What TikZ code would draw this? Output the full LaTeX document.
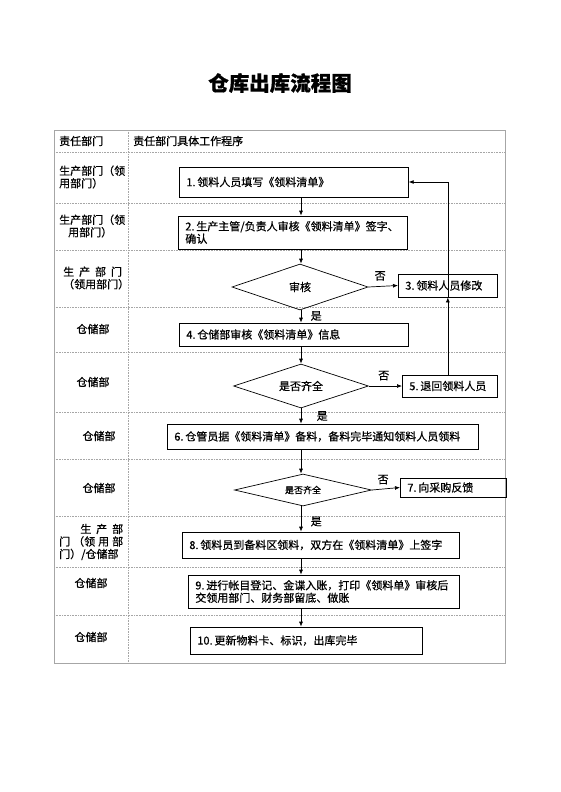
\documentclass[tikz,border=0pt]{standalone}
\usepackage{fontspec}
\setmainfont{Noto Sans CJK SC}[RawFeature={embolden=0.6}]
\usepackage{tikz}
\usetikzlibrary{shapes.geometric, arrows.meta}

\begin{document}
\begin{tikzpicture}[x=1pt, y=-1pt,
  font=\fontsize{11}{12.5}\selectfont,
  procbox/.style={draw, line width=0.7pt, anchor=west, align=left, inner xsep=7pt, inner ysep=0pt},
  decision/.style={draw, diamond, line width=0.7pt, inner sep=0pt, aspect=3},
  flow/.style={line width=0.7pt, -{Latex[length=5pt, width=4pt]}},
  rowline/.style={gray!70, densely dotted, line width=0.6pt},
  dept/.style={align=left, inner sep=0pt}]
\useasboundingbox (0,0) rectangle (560,792);
\node (title) at (280,83) {\fontsize{20.5}{24}\selectfont\bfseries 仓库出库流程图};
% table frame
\draw[gray!70, line width=0.8pt] (54,130) rectangle (505,663);
\draw[rowline] (128,130) -- (128,663);
\foreach \y in {152,203,250,307,352,412,459,516,567,615}
  \draw[rowline] (54,\y) -- (505,\y);
% left column
\node[dept, anchor=west] (h1) at (59,141) {责任部门};
\node[dept, anchor=west] (h2) at (133,141) {责任部门具体工作程序};
\node[dept, anchor=west] (r1) at (59,177) {生产部门（领\\用部门）};
\node[dept, anchor=west] (r2) at (59,226) {生产部门（领\\\hspace*{9pt}用部门）};
\node[dept, anchor=west] (r3) at (63,278) {生\ \ 产\ \ 部\ \ 门\\（领用部门）};
\node[dept] (r4) at (93,329) {仓储部};
\node[dept] (r5) at (93,382) {仓储部};
\node[dept] (r6) at (99,436) {仓储部};
\node[dept] (r7) at (99,488) {仓储部};
\node[dept, anchor=west] (r8) at (59,542) {\makebox[64pt][r]{生\ \ 产\ \ 部}\\\makebox[64pt][s]{门 （领 用 部}\\\makebox[64pt][s]{门）/仓储部}};
\node[dept] (r9) at (91,583) {仓储部};
\node[dept] (r10) at (91,637) {仓储部};
% flow
\node[procbox, text width=215pt, minimum height=30pt] (b1) at (179,182) {1.\,领料人员填写《领料清单》};
\node[procbox, text width=215pt, minimum height=33pt] (b2) at (178,232.5) {2.\,生产主管/负责人审核《领料清单》签字、\\确认};
\node[decision, minimum width=136pt, minimum height=46pt] (d1) at (300,287) {审核};
\node[procbox, text width=85pt, minimum height=23pt] (b3) at (398,285.5) {3.\,领料人员修改};
\node[procbox, text width=215pt, minimum height=23pt] (b4) at (179,334.5) {4.\,仓储部审核《领料清单》信息};
\node[decision, minimum width=135pt, minimum height=44pt] (d2) at (301,386) {是否齐全};
\node[procbox, text width=81pt, minimum height=22pt] (b5) at (402,386) {5.\,退回领料人员};
\node[procbox, text width=297pt, minimum height=25pt] (b6) at (167,436.5) {6.\,仓管员据《领料清单》备料，备料完毕通知领料人员领料};
\node[decision, minimum width=137pt, minimum height=32pt, font=\fontsize{9}{11}\selectfont] (d3) at (303,490) {是否齐全};
\node[procbox, text width=92pt, minimum height=19pt] (b7) at (400,487.5) {7.\,向采购反馈};
\node[procbox, text width=263pt, minimum height=26pt] (b8) at (182,545) {8.\,领料员到备料区领料，双方在《领料清单》上签字};
\node[procbox, text width=257pt, minimum height=33pt] (b9) at (188,591.5) {9.\,进行帐目登记、金谍入账，打印《领料单》审核后\\交领用部门、财务部留底、做账};
\node[procbox, text width=218pt, minimum height=27pt] (b10) at (190,640.5) {10.\,更新物料卡、标识，出库完毕};
\coordinate (axis) at (301,0);
\draw[flow] (b1.south -| axis) -- (b2.north -| axis);
\draw[flow] (b2.south -| axis) -- (d1.north -| axis);
\draw[flow] (d1.east) -- (b3.west) node[above, pos=.4, yshift=2pt]{否};
\draw[flow] (d1.south -| axis) -- (b4.north -| axis) node[right, pos=.45, xshift=6pt]{是};
\draw[flow] (b4.south -| axis) -- (d2.north -| axis);
\draw[flow] (d2.east) -- (b5.west) node[above, pos=.45, yshift=2pt]{否};
\draw[flow] (b5.north -| b3.south) -- (b3.south);
\draw[flow] (b3.south) -- (b3.south |- b1.east) -- (b1.east);
\draw[flow] (d2.south -| axis) -- (b6.north -| axis) node[right, pos=.5, xshift=12pt]{是};
\draw[flow] (b6.south -| axis) -- (d3.north -| axis);
\draw[flow] (d3.east) -- (b7.west) node[above, pos=.4, yshift=1pt]{否};
\draw[flow] (d3.south -| axis) -- (b8.north -| axis) node[right, pos=.6, xshift=6pt]{是};
\draw[flow] (b8.south -| axis) -- (b9.north -| axis);
\draw[flow] (b9.south -| axis) -- (b10.north -| axis);
\end{tikzpicture}
\end{document}
